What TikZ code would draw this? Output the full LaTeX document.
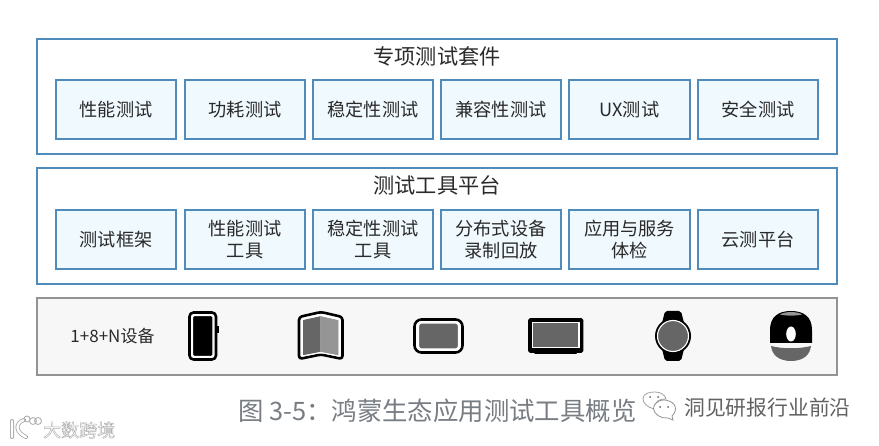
\documentclass[tikz,border=0pt]{standalone}
\usepackage{fontspec}
\setmainfont{Noto Sans CJK SC}
\usetikzlibrary{calc}
\definecolor{edgeblue}{HTML}{4F8CBC}
\definecolor{cellfill}{HTML}{F0F9FE}
\definecolor{inktext}{HTML}{2A2A2A}
\definecolor{capgray}{HTML}{777D83}
\definecolor{markgray}{HTML}{626262}
\definecolor{icongray}{HTML}{666666}
\definecolor{iconlight}{HTML}{959595}
\tikzset{
  x=1pt,y=-1pt,
  panel/.style={draw=edgeblue,line width=1.8pt,fill=white,minimum width=800pt,anchor=north west,inner sep=0pt,outer sep=0pt},
  cell/.style={draw=edgeblue,line width=1.5pt,fill=cellfill,minimum width=120pt,minimum height=59pt,anchor=north west,inner sep=0pt,outer sep=0pt,align=center,font=\fontsize{18.2}{22}\selectfont,text=inktext},
  paneltitle/.style={font=\fontsize{21.2}{24}\selectfont,text=inktext},
  shell/.style={draw=black,line width=2.6pt,fill=white,line join=round},
  caption/.style={font=\fontsize{25.4}{28}\selectfont,text=capgray,anchor=west,inner sep=0pt},
}
\begin{document}
\begin{tikzpicture}
\useasboundingbox (0,0) rectangle (879,446);
\fill[white] (0,0) rectangle (879,446);
% Panel 1
\node[panel,minimum height=115pt] (p1) at (37,39) {};
\node[paneltitle] (t1) at (437,56.5) {专项测试套件};
\node[cell] (a1) at (56,80) {性能测试};
\node[cell] (a2) at (185,80) {功耗测试};
\node[cell] (a3) at (313,80) {稳定性测试};
\node[cell] (a4) at (441,80) {兼容性测试};
\node[cell,minimum width=121pt] (a5) at (569,80) {UX测试};
\node[cell] (a6) at (698,80) {安全测试};
% Panel 2
\node[panel,minimum height=116pt] (p2) at (37,168) {};
\node[paneltitle] (t2) at (437,185.5) {测试工具平台};
\node[cell] (b1) at (56,210) {测试框架};
\node[cell] (b2) at (185,210) {性能测试\\工具};
\node[cell] (b3) at (313,210) {稳定性测试\\工具};
\node[cell] (b4) at (441,210) {分布式设备\\录制回放};
\node[cell,minimum width=121pt] (b5) at (569,210) {应用与服务\\体检};
\node[cell] (b6) at (698,210) {云测平台};
% Panel 3
\node[panel,draw=gray!85,fill=black!3,minimum height=77pt] (p3) at (37,298) {};
\node[font=\fontsize{17}{20}\selectfont,text=inktext] (devs) at (112.5,336) {1+8+N设备};
% phone
\draw[shell,rounded corners=4pt] (189.5,312.5) rectangle (216,359.5);
\fill[black] (216,326) rectangle (218.5,333);
\draw[white,fill=black,line width=1.1pt,rounded corners=1.5pt] (192.5,315.5) rectangle (213,356.5);
% foldable
\draw[shell,rounded corners=3pt] (299,317) -- (321,312) -- (342.5,317) -- (342.5,359) -- (321,354.5) -- (299,359) -- cycle;
\fill[icongray] (303,320) -- (320.5,316) -- (320.5,352) -- (303,355.5) -- cycle;
\fill[iconlight] (320.5,316) -- (338.5,320) -- (338.5,355.5) -- (320.5,352) -- cycle;
\draw[white,line width=1pt,line join=round] (302,319.5) -- (320.5,315.5) -- (339,319.5) -- (339,356) -- (320.5,352.5) -- (302,356) -- cycle;
% tablet
\draw[shell,rounded corners=7pt] (414.5,319.5) rectangle (462.5,352.5);
\draw[white,fill=icongray,line width=1.1pt,rounded corners=3pt] (418.5,323) rectangle (458.5,349);
% screen
\draw[shell,fill=black,line join=miter,rounded corners=1pt] (529.5,319.5) rectangle (582,351.5);
\fill[black,rounded corners=1pt] (534,350) rectangle (577,354);
\draw[white,fill=icongray,line width=1.3pt] (532.5,322.5) rectangle (579,347.5);
% watch
\fill[black,rounded corners=2pt] (665,311) -- (681,311) -- (684,323) -- (684,349) -- (681,361) -- (665,361) -- (662,349) -- (662,323) -- cycle;
\fill[black] (673,336) circle[radius=18];
\draw[white,fill=icongray,line width=1.1pt] (673,336) circle[radius=15.5];
% speaker
\fill[black] (770,343) -- (770,330) .. controls (770,317) and (778,311) .. (791,311) .. controls (804,311) and (812,317) .. (812,330) -- (812,343) -- cycle;
\fill[iconlight] (780,314.5) .. controls (785,311.2) and (797,311.2) .. (802,314.5) .. controls (796,316) and (786,316) .. (780,314.5) -- cycle;
\fill[icongray] (771,346) .. controls (782,349) and (800,349) .. (811,346) .. controls (810,355) and (803,361) .. (791,361) .. controls (779,361) and (772,355) .. (771,346) -- cycle;
\fill[white] (791,334) ellipse[x radius=4.8,y radius=7.5];
% Caption
\node[caption] (cap) at (238,410.5) {图 3-5：鸿蒙生态应用测试工具概览};
% WeChat mark
\draw[markgray!60,line width=.8pt,fill=white] (654,409) .. controls (647,407) and (643,403) .. (643,399) .. controls (643,393) and (650,392) .. (655,392) .. controls (661,392) and (665,395) .. (666,399) .. controls (660,398) and (653,403) .. (654,409) -- cycle;
\draw[markgray!70,line width=.8pt,fill=white] (659,401) .. controls (665,398) and (676,402) .. (675.5,409) .. controls (675,413) and (673,415) .. (672,416) -- (673,420) -- (668,418) .. controls (661,419) and (654,414) .. (653.5,409) .. controls (653.5,405) and (656,403) .. (659,401) -- cycle;
\fill[markgray] (650,397) circle[radius=1] (658,397) circle[radius=1] (660,407) circle[radius=1] (668,407) circle[radius=1];
\node[font=\fontsize{20.8}{24}\selectfont,text=markgray,anchor=west,inner sep=0pt] (mark) at (684,408) {洞见研报行业前沿};
% Bottom-left watermark
\draw[black!35,line width=4pt,line cap=round] (12,421) -- (12,437) (24,420) .. controls (15,423) and (15,432) .. (26,437);
\draw[white,line width=2.4pt,line cap=round] (12,421) -- (12,437) (24,420) .. controls (15,423) and (15,432) .. (26,437);
\draw[black!30,line width=.9pt] (27,419) circle[radius=3] (33,421) circle[radius=3.5] (38,421) circle[radius=3.5];
\node[font=\fontsize{18}{22}\selectfont,anchor=west,inner sep=0pt] (brand) at (43,430) {\special{pdf:code 2 Tr 0.45 w 0.68 G 1 g}大数跨境\special{pdf:code 0 Tr}};
\end{tikzpicture}
\end{document}
